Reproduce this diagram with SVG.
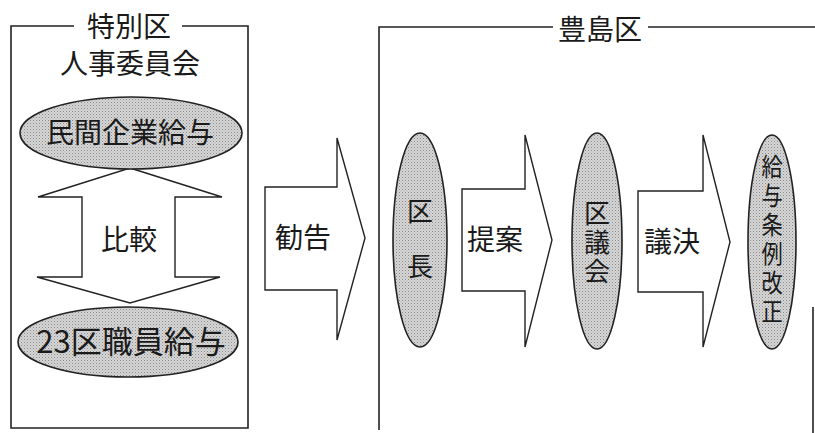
<svg xmlns="http://www.w3.org/2000/svg" width="815" height="433" viewBox="0 0 815 433">
<style>
text{font-family:"Noto Sans CJK JP","Noto Sans CJK SC",sans-serif;fill:#1a1a1a;text-anchor:middle}
.frame{fill:none;stroke:#222;stroke-width:1.6}
.arrow{fill:#fff;stroke:#222;stroke-width:1.4;stroke-linejoin:miter}
.oval{fill:url(#dots);stroke:#222;stroke-width:1.6}
.t28{font-size:28px}
.t26{font-size:26px}
.t25{font-size:25px}
</style>
<defs>
<pattern id="dots" width="3" height="3" patternUnits="userSpaceOnUse">
<rect width="3" height="3" fill="#d6d6d6"/>
<rect width="1" height="1" fill="#8a8a8a"/>
<rect x="1.5" y="1.5" width="1" height="1" fill="#a8a8a8"/>
</pattern>
</defs>

<g id="frame-tokubetsuku">
<polyline class="frame" points="74,26 11,26 11,428 248,428 248,26 182,26"/>
<text class="t28" x="129" y="37">特別区</text>
<text class="t28" x="130" y="74">人事委員会</text>
</g>

<g id="frame-toshima">
<polyline class="frame" points="553,27 379,27 379,430"/>
<line class="frame" x1="648" y1="27" x2="815" y2="27"/>
<line class="frame" x1="813" y1="307" x2="813" y2="433"/>
<text class="t28" x="600" y="40">豊島区</text>
</g>

<g id="connectors">
<polygon id="compare" class="arrow" points="130,168 222,197 175,197 175,277 220,277 130,303 37,277 82,277 82,197 38,197"/>
<text class="t28" x="129" y="250">比較</text>
<polygon id="kankoku" class="arrow" points="265,187 337,187 337,138 365,238 337,340 337,290 265,290"/>
<text class="t28" x="303" y="248">勧告</text>
<polygon id="teian" class="arrow" points="462,189 525,189 525,135 552,240 525,347 525,291 462,291"/>
<text class="t28" x="495" y="250">提案</text>
<polygon id="giketsu" class="arrow" points="638,191 703,191 703,135 730,242 703,347 703,292 638,292"/>
<text class="t28" x="672" y="252">議決</text>
</g>

<g id="node-minkan">
<ellipse class="oval" cx="131" cy="133" rx="111" ry="36"/>
<text class="t28" x="130" y="143">民間企業給与</text>
</g>

<g id="node-23ku">
<ellipse class="oval" cx="128" cy="342" rx="110" ry="35"/>
<text x="131" y="353" style="font-size:31px">23区職員給与</text>
</g>

<g id="node-kucho">
<ellipse class="oval" cx="420" cy="240" rx="27" ry="107"/>
<text class="t26" x="420" y="221">区</text>
<text class="t26" x="420" y="276">長</text>
</g>

<g id="node-kugikai">
<ellipse class="oval" cx="597" cy="241" rx="25" ry="108"/>
<text class="t26" x="597" y="223">区</text>
<text class="t26" x="597" y="252">議</text>
<text class="t26" x="597" y="281">会</text>
</g>

<g id="node-jorei">
<ellipse class="oval" cx="772" cy="242" rx="24" ry="107"/>
<g transform="translate(772 0) scale(0.85 1)">
<text class="t25" x="0" y="176">給</text>
<text class="t25" x="0" y="205">与</text>
<text class="t25" x="0" y="234">条</text>
<text class="t25" x="0" y="263">例</text>
<text class="t25" x="0" y="292">改</text>
<text class="t25" x="0" y="321">正</text>
</g>
</g>
</svg>
